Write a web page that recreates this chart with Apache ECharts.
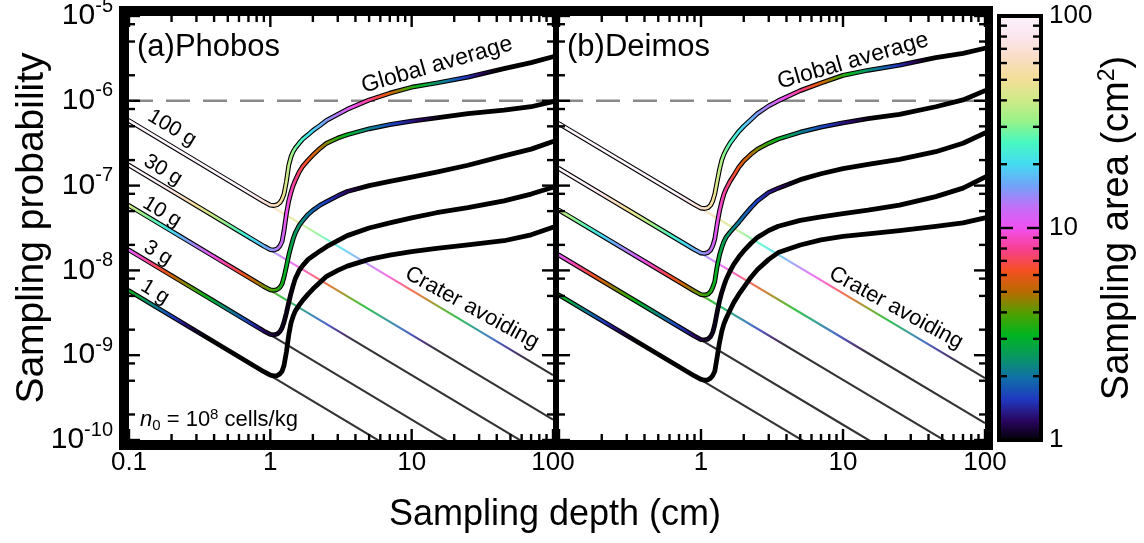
<!DOCTYPE html>
<html><head><meta charset="utf-8">
<script src="https://cdn.jsdelivr.net/npm/echarts@6/dist/echarts.min.js"></script>
<style>html,body{margin:0;padding:0;background:#fff}#c{width:1144px;height:543px}</style>
</head><body><div id="c"></div>
<script>
// ---------------- DATA ----------------
const MASS_LABELS = ['100 g', '30 g', '10 g', '3 g', '1 g'];
// depths (cm) at which the "global average" curves were read
const DEPTH_GRID = [0.1, 0.9, 1.0, 1.06, 1.12, 1.17, 1.21, 1.25, 1.3, 1.35, 1.4, 1.45, 1.5, 1.6, 1.7, 1.85, 2.0, 2.25, 2.5, 3.0, 3.5, 5, 7, 10, 15, 25, 45, 70, 100];
// (a) Phobos, global average, log10(probability)
const GA_A_100 = [-6.235,-7.19,-7.23,-7.235,-7.225,-7.2,-7.16,-7.1,-6.95,-6.76,-6.66,-6.6,-6.56,-6.5,-6.45,-6.4,-6.35,-6.29,-6.23,-6.16,-6.1,-5.99,-5.91,-5.84,-5.79,-5.72,-5.62,-5.55,-5.48];
const GA_A_30  = [-6.76,-7.715,-7.755,-7.76,-7.745,-7.71,-7.66,-7.53,-7.33,-7.18,-7.08,-7.0,-6.94,-6.84,-6.77,-6.7,-6.64,-6.56,-6.5,-6.44,-6.4,-6.33,-6.28,-6.24,-6.2,-6.15,-6.11,-6.07,-6.01];
const GA_A_10  = [-7.235,-8.19,-8.23,-8.235,-8.225,-8.2,-8.16,-8.08,-7.95,-7.82,-7.72,-7.63,-7.56,-7.47,-7.41,-7.34,-7.29,-7.23,-7.19,-7.12,-7.07,-7.0,-6.95,-6.9,-6.84,-6.76,-6.65,-6.57,-6.48];
const GA_A_3   = [-7.76,-8.715,-8.755,-8.76,-8.75,-8.72,-8.68,-8.61,-8.5,-8.38,-8.27,-8.18,-8.1,-8.0,-7.94,-7.87,-7.83,-7.77,-7.72,-7.65,-7.59,-7.5,-7.44,-7.38,-7.32,-7.26,-7.18,-7.1,-7.02];
const GA_A_1   = [-8.24,-9.195,-9.235,-9.245,-9.24,-9.22,-9.19,-9.12,-8.96,-8.76,-8.62,-8.54,-8.48,-8.41,-8.35,-8.28,-8.22,-8.14,-8.07,-8.0,-7.95,-7.87,-7.82,-7.78,-7.74,-7.7,-7.65,-7.58,-7.49];
// (b) Deimos, global average, log10(probability)
const GA_B_100 = [-6.27,-7.225,-7.265,-7.27,-7.26,-7.23,-7.18,-7.1,-6.95,-6.81,-6.7,-6.63,-6.58,-6.5,-6.44,-6.36,-6.3,-6.22,-6.15,-6.06,-6.0,-5.88,-5.79,-5.7,-5.64,-5.58,-5.49,-5.44,-5.38];
const GA_B_30  = [-6.8,-7.755,-7.795,-7.8,-7.79,-7.76,-7.71,-7.63,-7.45,-7.3,-7.19,-7.1,-7.04,-6.95,-6.88,-6.78,-6.71,-6.63,-6.57,-6.5,-6.45,-6.37,-6.31,-6.26,-6.21,-6.16,-6.07,-5.99,-5.88];
const GA_B_10  = [-7.29,-8.245,-8.285,-8.29,-8.28,-8.25,-8.2,-8.13,-7.95,-7.82,-7.73,-7.66,-7.61,-7.55,-7.5,-7.43,-7.36,-7.26,-7.18,-7.08,-7.03,-6.93,-6.86,-6.8,-6.75,-6.69,-6.6,-6.5,-6.38];
const GA_B_3   = [-7.82,-8.775,-8.815,-8.82,-8.81,-8.78,-8.73,-8.64,-8.49,-8.36,-8.26,-8.18,-8.11,-8.01,-7.93,-7.84,-7.77,-7.68,-7.61,-7.53,-7.48,-7.41,-7.37,-7.33,-7.29,-7.23,-7.13,-7.03,-6.9];
const GA_B_1   = [-8.29,-9.245,-9.285,-9.295,-9.29,-9.27,-9.24,-9.19,-9.02,-8.85,-8.72,-8.63,-8.57,-8.47,-8.38,-8.28,-8.2,-8.08,-7.99,-7.87,-7.79,-7.7,-7.64,-7.6,-7.57,-7.53,-7.48,-7.44,-7.38];
// sampling area (cm^2) along the global-average curves (colour)
const AREA_G_100 = [650,72,65,61,57,53,50,46,41,37,34,31,29,26,23.5,21,19,17,15,13,11,8,5.5,3.6,2.4,1.5,0.9,0.6,0.4];
const AREA_G_30  = [150,16.7,15,14.2,13.3,12.5,12,11.2,10.2,9.5,8.9,8.4,8,7.3,6.7,6.1,5.6,5,4.4,3.6,3.1,2.2,1.7,1.35,1.05,0.7,0.45,0.3,0.2];
const AREA_G_10  = [40,4.4,4.0,3.8,3.6,3.45,3.35,3.2,3.05,2.9,2.75,2.65,2.55,2.4,2.25,2.05,1.9,1.75,1.6,1.4,1.25,0.95,0.7,0.5,0.35,0.2,0.12,0.08,0.05];
const AREA_G_3   = [11,1.25,1.15,1.12,1.1,1.09,1.08,1.07,1.06,1.05,1.04,1.02,1.0,0.95,0.9,0.85,0.8,0.7,0.6,0.5,0.45,0.3,0.2,0.15,0.1,0.06,0.03,0.02,0.01];
const AREA_G_1   = [3.3,0.37,0.33,0.31,0.29,0.28,0.27,0.26,0.25,0.24,0.23,0.22,0.22,0.2,0.19,0.18,0.16,0.15,0.13,0.11,0.09,0.07,0.05,0.03,0.02,0.013,0.007,0.005,0.003];
// crater-avoiding lines
const CR_DEPTH = [0.1, 1, 10, 100];
const CR_A_100 = [-6.235,-7.235,-8.235,-9.235];
const CR_A_30  = [-6.76,-7.76,-8.76,-9.76];
const CR_A_10  = [-7.235,-8.235,-9.235,-10.235];
const CR_A_3   = [-7.76,-8.76,-9.76,-10.76];
const CR_A_1   = [-8.24,-9.24,-10.24,-11.24];
const CR_B_100 = [-6.27,-7.27,-8.27,-9.27];
const CR_B_30  = [-6.8,-7.8,-8.8,-9.8];
const CR_B_10  = [-7.29,-8.29,-9.29,-10.29];
const CR_B_3   = [-7.82,-8.82,-9.82,-10.82];
const CR_B_1   = [-8.29,-9.29,-10.29,-11.29];
const AREA_CR_100 = [650,65,6.5,0.65];
const AREA_CR_30  = [150,15,1.5,0.15];
const AREA_CR_10  = [40,4,0.4,0.04];
const AREA_CR_3   = [11,1.1,0.11,0.011];
const AREA_CR_1   = [3.3,0.33,0.033,0.0033];
// threshold line
const THRESHOLD = 1e-6;
// ticks
const X_MAJOR_TICKS = [0.1, 1, 10, 100];
const X_MINOR_TICKS = [0.2,0.3,0.4,0.5,0.6,0.7,0.8,0.9,2,3,4,5,6,7,8,9,20,30,40,50,60,70,80,90];
const Y_MAJOR_TICKS = [1e-10,1e-9,1e-8,1e-7,1e-6,1e-5];
const Y_MINOR_TICKS = [2e-10,5e-10,8e-10,2e-9,5e-9,8e-9,2e-8,5e-8,8e-8,2e-7,5e-7,8e-7,2e-6,5e-6,8e-6];
const CB_MAJOR_TICKS = [10];
const CB_MINOR_TICKS = [2,3,4,5,6,7,8,9,20,30,40,50,60,70,80,90];
// colour map, evenly spaced in log10(area) from 1 to 100 cm^2
const COLORMAP = ['#000000','#2a0660','#2038c0','#1070a8','#089860','#00b420','#50a000','#b86c00','#f45020','#f84090','#f050f0','#c070f8','#70a4f8','#44dcf2','#48f8c0','#98f288','#d0ea88','#f4de98','#f9ddc8','#fce6f0','#fdf4fc'];

// ---------------- BUILD ----------------
const FONT = "'Liberation Sans', Arial, Helvetica, sans-serif";
const chart = echarts.init(document.getElementById('c'));
const GLOBAL = [[GA_A_100,GA_A_30,GA_A_10,GA_A_3,GA_A_1],[GA_B_100,GA_B_30,GA_B_10,GA_B_3,GA_B_1]];
const CRATER = [[CR_A_100,CR_A_30,CR_A_10,CR_A_3,CR_A_1],[CR_B_100,CR_B_30,CR_B_10,CR_B_3,CR_B_1]];
const AREA_G = [AREA_G_100,AREA_G_30,AREA_G_10,AREA_G_3,AREA_G_1];
const AREA_CR = [AREA_CR_100,AREA_CR_30,AREA_CR_10,AREA_CR_3,AREA_CR_1];

function clamp01(v){ return Math.max(0, Math.min(1, v)); }
function pts(depths, logp){ return depths.map((d, i) => [d, Math.pow(10, logp[i])]); }

function frameRenderer(th){
  return function(params){
    const cs = params.coordSys, L = cs.x, T = cs.y, R = cs.x + cs.width, B = cs.y + cs.height;
    const f = {fill: '#000'};
    return {type: 'group', silent: true, children: [
      {type: 'rect', shape: {x: L-th.l, y: T-th.t, width: th.l, height: B-T+th.t+th.b}, style: f},
      {type: 'rect', shape: {x: R, y: T-th.t, width: th.r, height: B-T+th.t+th.b}, style: f},
      {type: 'rect', shape: {x: L-th.l, y: T-th.t, width: R-L+th.l+th.r, height: th.t}, style: f},
      {type: 'rect', shape: {x: L-th.l, y: B, width: R-L+th.l+th.r, height: th.b}, style: f}
    ]};
  };
}
function tickRenderer(params, api){
  const cs = params.coordSys, L = cs.x, T = cs.y, R = cs.x + cs.width, B = cs.y + cs.height;
  const v = api.value(0), kind = api.value(1);
  const st = {stroke: '#000', lineWidth: 2.4};
  if (kind <= 2) {
    const x = api.coord([v, 1e-7])[0], len = kind === 1 ? 11 : 6;
    return {type: 'group', silent: true, children: [
      {type: 'line', shape: {x1: x, y1: B, x2: x, y2: B-len}, style: st},
      {type: 'line', shape: {x1: x, y1: T, x2: x, y2: T+len}, style: st}]};
  }
  const y = api.coord([1, v])[1], len = kind === 3 ? 11 : 6;
  return {type: 'group', silent: true, children: [
    {type: 'line', shape: {x1: L, y1: y, x2: L+len, y2: y}, style: st},
    {type: 'line', shape: {x1: R, y1: y, x2: R-len, y2: y}, style: st}]};
}
const tickData = []
  .concat(X_MAJOR_TICKS.map(v => [v, 1]))
  .concat(X_MINOR_TICKS.map(v => [v, 2]))
  .concat(Y_MAJOR_TICKS.map(v => [v, 3]))
  .concat(Y_MINOR_TICKS.map(v => [v, 4]));

const series = [];
const FRAMES = [{l: 10, r: 3, t: 10, b: 10}, {l: 3, r: 8, t: 10, b: 10}];
for (let p = 0; p < 2; p++) {
  series.push({type: 'line', xAxisIndex: p, yAxisIndex: p, z: 1, silent: true, symbol: 'none',
    data: [[0.1, THRESHOLD], [100, THRESHOLD]],
    lineStyle: {color: '#8a8a8a', width: 2.5, type: [24, 13]}});
  for (let m = 0; m < 5; m++) {
    series.push({id: 'thin-' + p + '-' + m, type: 'line', xAxisIndex: p, yAxisIndex: p, z: 2, silent: true, symbol: 'none', clip: true,
      data: pts(CR_DEPTH, CRATER[p][m]), lineStyle: {color: '#444', width: 2.1, opacity: 0.8}});
  }
  for (let m = 0; m < 5; m++) {
    series.push({type: 'line', xAxisIndex: p, yAxisIndex: p, z: 3, silent: true, symbol: 'none', clip: true,
      data: pts(DEPTH_GRID, GLOBAL[p][m]),
      lineStyle: {color: '#000', width: 4.8, cap: 'round', join: 'round'}});
  }
  for (let m = 0; m < 5; m++) {
    series.push({id: 'core-' + p + '-' + m, type: 'line', xAxisIndex: p, yAxisIndex: p, z: 4, silent: true, symbol: 'none', clip: true,
      data: pts(DEPTH_GRID, GLOBAL[p][m]),
      lineStyle: {color: '#000', width: 2.6, cap: 'round', join: 'round'}});
  }
  series.push({type: 'custom', xAxisIndex: p, yAxisIndex: p, z: 5, data: tickData, renderItem: tickRenderer});
  series.push({type: 'custom', xAxisIndex: p, yAxisIndex: p, z: 6, data: [[1, 1e-7]], renderItem: frameRenderer(FRAMES[p])});
}
// colour bar
series.push({type: 'custom', xAxisIndex: 2, yAxisIndex: 2, z: 1, data: [[0.5, 10]],
  renderItem: function(params){
    const cs = params.coordSys;
    const stops = COLORMAP.map((c, i) => ({offset: i / (COLORMAP.length - 1), color: c}));
    return {type: 'rect', silent: true, shape: {x: cs.x, y: cs.y, width: cs.width, height: cs.height},
      style: {fill: new echarts.graphic.LinearGradient(0, 1, 0, 0, stops), stroke: '#000', lineWidth: 4}};
  }});
series.push({type: 'custom', xAxisIndex: 2, yAxisIndex: 2, z: 2,
  data: CB_MAJOR_TICKS.map(v => [0.5, v, 1]).concat(CB_MINOR_TICKS.map(v => [0.5, v, 2])),
  renderItem: function(params, api){
    const cs = params.coordSys;
    const y = api.coord([0.5, api.value(1)])[1];
    const len = api.value(2) === 1 ? 13 : 7;
    const L = cs.x + 1, R = cs.x + cs.width - 1;
    const st = {stroke: '#000', lineWidth: 2.4};
    return {type: 'group', silent: true, children: [
      {type: 'line', shape: {x1: L, y1: y, x2: L+len, y2: y}, style: st},
      {type: 'line', shape: {x1: R, y1: y, x2: R-len, y2: y}, style: st}]};
  }});

const xLabel = {fontSize: 26, color: '#000', fontFamily: FONT, margin: 10,
  formatter: v => (v < 0.5 ? '0.1' : String(Math.round(v)))};
const yLabelRich = {
  b: {fontSize: 30, lineHeight: 40, color: '#000', fontFamily: FONT},
  s: {fontSize: 20, lineHeight: 20, verticalAlign: 'top', color: '#000', fontFamily: FONT}
};
function noLines(o){ return Object.assign({axisLine: {show: false}, axisTick: {show: false}, splitLine: {show: false}, minorTick: {show: false}}, o); }

const massLabelPos = [[172,128],[163,170],[162,212],[158,253],[155,292]];
const graphics = [
  {type: 'text', x: 137, y: 47, z: 100, style: {text: '(a)Phobos', fontSize: 31, fontFamily: FONT, fill: '#000', verticalAlign: 'middle'}},
  {type: 'text', x: 567, y: 47, z: 100, style: {text: '(b)Deimos', fontSize: 31, fontFamily: FONT, fill: '#000', verticalAlign: 'middle'}},
  {type: 'text', x: 437, y: 65, rotation: 0.28, z: 100, style: {text: 'Global average', fontSize: 23, fontFamily: FONT, fill: '#000', align: 'center', verticalAlign: 'middle'}},
  {type: 'text', x: 853, y: 61, rotation: 0.28, z: 100, style: {text: 'Global average', fontSize: 23, fontFamily: FONT, fill: '#000', align: 'center', verticalAlign: 'middle'}},
  {type: 'text', x: 472, y: 308, rotation: -0.5, z: 100, style: {text: 'Crater avoiding', fontSize: 22, fontFamily: FONT, fill: '#000', align: 'center', verticalAlign: 'middle'}},
  {type: 'text', x: 896, y: 308, rotation: -0.5, z: 100, style: {text: 'Crater avoiding', fontSize: 22, fontFamily: FONT, fill: '#000', align: 'center', verticalAlign: 'middle'}},
  {type: 'text', x: 140, y: 420, z: 100, style: {
    text: '{i|n}{sub|0}{r| = 10}{sup|8}{r| cells/kg}', verticalAlign: 'middle', fill: '#000',
    rich: {
      i: {fontSize: 22, lineHeight: 26, fontStyle: 'italic', fontFamily: FONT, fill: '#000'},
      r: {fontSize: 22, lineHeight: 26, fontFamily: FONT, fill: '#000'},
      sub: {fontSize: 15, lineHeight: 15, verticalAlign: 'bottom', fontFamily: FONT, fill: '#000'},
      sup: {fontSize: 15, lineHeight: 15, verticalAlign: 'top', fontFamily: FONT, fill: '#000'}
    }}},
  {type: 'text', x: 32, y: 228, rotation: Math.PI / 2, z: 100, style: {text: 'Sampling probability', fontSize: 39, fontFamily: FONT, fill: '#000', align: 'center', verticalAlign: 'middle'}},
  {type: 'text', x: 555, y: 515, z: 100, style: {text: 'Sampling depth (cm)', fontSize: 36, fontFamily: FONT, fill: '#000', align: 'center', verticalAlign: 'middle'}},
  {type: 'text', x: 1118, y: 228, rotation: Math.PI / 2, z: 100, style: {
    text: '{r|Sampling area (cm}{s|2}{r|)}', align: 'center', verticalAlign: 'middle', fill: '#000',
    rich: {
      r: {fontSize: 38, lineHeight: 44, fontFamily: FONT, fill: '#000'},
      s: {fontSize: 23, lineHeight: 23, verticalAlign: 'top', fontFamily: FONT, fill: '#000'}
    }}}
];
MASS_LABELS.forEach((t, i) => graphics.push({type: 'text', x: massLabelPos[i][0], y: massLabelPos[i][1], rotation: -0.54, z: 100,
  style: {text: t, fontSize: 21, fontFamily: FONT, fill: '#000', align: 'center', verticalAlign: 'middle'}}));

chart.setOption({
  animation: false,
  backgroundColor: '#fff',
  textStyle: {fontFamily: FONT},
  grid: [
    {left: 129, top: 16, width: 424, height: 424, containLabel: false, outerBoundsMode: 'none'},
    {left: 559, top: 16, width: 426, height: 424, containLabel: false, outerBoundsMode: 'none'},
    {left: 999, top: 16, width: 42, height: 424, containLabel: false, outerBoundsMode: 'none'}
  ],
  xAxis: [
    noLines({gridIndex: 0, type: 'log', logBase: 10, min: 0.1, max: 100, axisLabel: xLabel}),
    noLines({gridIndex: 1, type: 'log', logBase: 10, min: 0.1, max: 100, axisLabel: Object.assign({}, xLabel, {showMinLabel: false})}),
    noLines({gridIndex: 2, type: 'value', min: 0, max: 1, show: false})
  ],
  yAxis: [
    noLines({gridIndex: 0, type: 'log', logBase: 10, min: 1e-10, max: 1e-5, axisLabel: {margin: 16, rich: yLabelRich,
      formatter: v => '{b|10}{s|' + Math.round(Math.log10(v)) + '}'}}),
    noLines({gridIndex: 1, type: 'log', logBase: 10, min: 1e-10, max: 1e-5, axisLabel: {show: false}}),
    noLines({gridIndex: 2, type: 'log', logBase: 10, min: 1, max: 100, position: 'right',
      axisLabel: {fontSize: 26, color: '#000', fontFamily: FONT, margin: 8, formatter: v => String(Math.round(v))}})
  ],
  series: series,
  graphic: graphics
});

// second pass: colour each curve by sampling area, positioned through the axes
function gradientFor(p, depths, logp, area){
  const px = depths.map((d, i) => chart.convertToPixel({gridIndex: p}, [d, Math.pow(10, logp[i])])[0]);
  const x0 = px[0], xN = px[px.length - 1];
  const cv = area.map(a => Math.log10(a) / 2);
  const stops = [], K = 12;
  for (let i = 0; i < px.length - 1; i++) {
    for (let k = 0; k < K; k++) {
      const t = k / K;
      const x = px[i] + (px[i+1] - px[i]) * t;
      const c = cv[i] + (cv[i+1] - cv[i]) * t;
      stops.push({offset: clamp01((x - x0) / (xN - x0)), color: echarts.color.lerp(clamp01(c), COLORMAP)});
    }
  }
  stops.push({offset: 1, color: echarts.color.lerp(clamp01(cv[cv.length - 1]), COLORMAP)});
  return new echarts.graphic.LinearGradient(x0, 0, xN, 0, stops, true);
}
const updates = [];
for (let p = 0; p < 2; p++) {
  for (let m = 0; m < 5; m++) {
    updates.push({id: 'thin-' + p + '-' + m, lineStyle: {color: gradientFor(p, CR_DEPTH, CRATER[p][m], AREA_CR[m])}});
    updates.push({id: 'core-' + p + '-' + m, lineStyle: {color: gradientFor(p, DEPTH_GRID, GLOBAL[p][m], AREA_G[m])}});
  }
}
chart.setOption({series: updates});
</script>
</body></html>
